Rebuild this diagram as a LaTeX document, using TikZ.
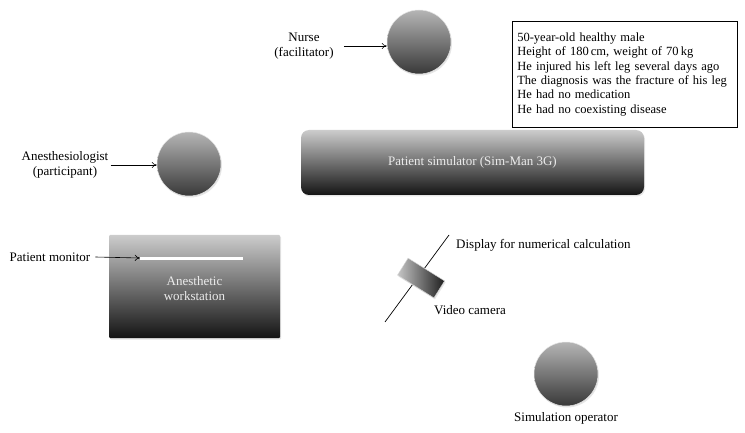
\documentclass[tikz,border=0pt]{standalone}
\usepackage{fontspec}
\setmainfont{Liberation Serif}
\usetikzlibrary{positioning,arrows.meta,shadows}
\tikzset{
  person/.style={circle,minimum size=64pt,inner sep=0pt,top color=gray!58,bottom color=black!78,draw=white!80!gray,line width=0.5pt,drop shadow={opacity=0.2,shadow xshift=1pt,shadow yshift=-1.5pt}},
  slab/.style={rectangle,inner sep=0pt,top color=gray!40,bottom color=black!92,text=white!92!black,align=center,font=\fontsize{13}{15.5}\selectfont,drop shadow={opacity=0.2,shadow xshift=1pt,shadow yshift=-1.5pt}},
  label/.style={align=center,inner sep=1pt,font=\fontsize{13}{15}\selectfont},
  pointer/.style={-{To[length=5pt,width=6pt]},line width=0.6pt}
}
\begin{document}
\begin{tikzpicture}[x=1pt,y=-1pt]
    \useasboundingbox (0,0) rectangle (745,433);
    \node[person] (nurse) at (419,42) {};
    \node[label] (nursetxt) at (304,46) {Nurse\\(facilitator)};
    \draw[pointer] ([xshift=9pt]nursetxt.east) -- (nursetxt.east -| nurse.west);
    \node[draw,line width=0.6pt,align=left,anchor=north west,text width=215pt,inner xsep=5pt,inner ysep=5pt,minimum height=106pt,font=\fontsize{12.5}{14.4}\selectfont] (history) at (512,21) {50-year-old healthy male\\Height of 180\,cm, weight of 70\,kg\\He injured his left leg several days ago\\The diagnosis was the fracture of his leg\\He had no medication\\He had no coexisting disease};
    \node[person] (anesth) at (189,164) {};
    \node[label] (anesthtxt) at (65,165) {Anesthesiologist\\(participant)};
    \draw[pointer] ([xshift=1pt]anesthtxt.east) -- (anesthtxt.east -| anesth.west);
    \node[slab,rounded corners=8pt,minimum width=343pt,minimum height=65pt] (simulator) at (472.5,162.5) {Patient simulator (Sim-Man 3G)};
    \node[slab,rounded corners=1pt,minimum width=171pt,minimum height=103pt] (workstation) at (194.5,286.5) {\\[-2pt]Anesthetic\\workstation};
    \node[fill=white,inner sep=0pt,minimum width=103pt,minimum height=3pt] (monitor) at (191.5,258) {};
    \node[label] (monitortxt) at (50,257) {Patient monitor};
    \draw[pointer] ([xshift=4pt]monitortxt.east) -- (monitor.west);
    \coordinate (displaytop) at (449,235);
    \coordinate (displaybot) at (385,322);
    \draw[line width=0.7pt] (displaytop) -- (displaybot);
    \node[label,anchor=west] (displaytxt) at (455,245) {Display for numerical calculation};
    \node[rectangle,rotate=-32,minimum width=43pt,minimum height=20pt,inner sep=0pt,left color=gray!45,right color=black!88,draw=white!70!gray,line width=0.4pt,drop shadow={opacity=0.2,shadow xshift=1pt,shadow yshift=-1.5pt}] (camera) at (421,278) {};
    \node[label,anchor=west] (cameratxt) at (433,310) {Video camera};
    \node[person] (operator) at (566,374) {};
    \node[label,below=5pt of operator] (operatortxt) {Simulation operator};
\end{tikzpicture}
\end{document}
